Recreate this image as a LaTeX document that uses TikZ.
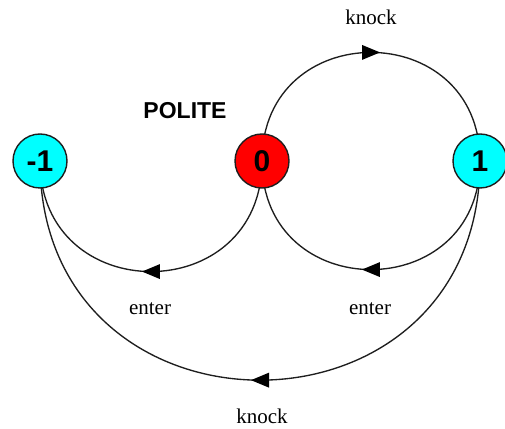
\documentclass[tikz,border=0pt]{standalone}
\usepackage{fontspec}
\setmainfont{Liberation Serif}
\newfontfamily\statefont{Liberation Sans}
\usetikzlibrary{decorations.markings,backgrounds}
\definecolor{statecyan}{RGB}{0,255,255}
\definecolor{statered}{RGB}{255,0,0}
\definecolor{wire}{RGB}{30,30,30}
\begin{document}
\begin{tikzpicture}[x=1pt,y=1pt,
  state/.style={circle,draw=wire,line width=1.4pt,minimum size=54pt,inner sep=0pt,
    font=\statefont\bfseries\fontsize{30}{30}\selectfont},
  idle/.style={state,fill=statecyan},
  active/.style={state,fill=statered},
  transition/.style={draw=wire,line width=1.35pt,looseness=1.703,
    postaction={decorate,decoration={markings,
      mark=at position 0.5 with {\fill[black] (9pt,0) -- (-9pt,7.5pt) -- (-9pt,-7.5pt) -- cycle;}}}},
  lbl/.style={anchor=base,font=\fontsize{21}{21}\selectfont},
]
\useasboundingbox (0,0) rectangle (505,428);

% states
\node[idle]   (m1) at (40,267)  {-1};
\node[active] (z)  at (262,267) {0};
\node[idle]   (p1) at (480,267) {1};

% transitions, drawn behind the states
\begin{scope}[on background layer]
  \draw[transition] (z.center)  to[out=90,in=90]   (p1.center);
  \draw[transition] (z.center)  to[out=-90,in=-90] (m1.center);
  \draw[transition] (p1.center) to[out=-90,in=-90] (z.center);
  \draw[transition] (p1.center) to[out=-90,in=-90] (m1.center);
\end{scope}

% labels
\node[lbl] (lknock1) at (371,403) {knock};
\node[lbl] (lenter1) at (150,113) {enter};
\node[lbl] (lenter2) at (370,113) {enter};
\node[lbl] (lknock2) at (262,5)   {knock};
\node[anchor=base,font=\statefont\bfseries\fontsize{23}{23}\selectfont] (polite) at (185,309) {POLITE};
\end{tikzpicture}
\end{document}
